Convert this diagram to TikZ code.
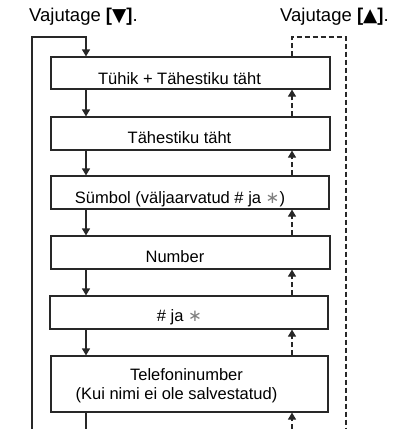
\documentclass[tikz,border=0pt]{standalone}
\usepackage{fontspec}
\setmainfont{Liberation Sans}
\newfontfamily\symfont{DejaVu Sans}
\usetikzlibrary{arrows.meta}
\definecolor{ln}{RGB}{40,40,40}
\newcommand{\myast}{{\symfont\color{gray}∗}}
\begin{document}
\begin{tikzpicture}[x=1pt,y=-1pt,
  box/.style={draw=ln,line width=1.1pt,minimum width=279pt,inner sep=0pt},
  lbl/.style={anchor=base,inner sep=0pt,font=\fontsize{16.5}{18.3}\selectfont},
  ttl/.style={anchor=base west,inner sep=0pt,font=\fontsize{18.5}{20}\selectfont},
  sline/.style={draw=ln,line width=1.1pt},
  arr/.style={sline,-{Triangle[width=8pt,length=7pt]}},
  dline/.style={draw=ln,line width=1.1pt,dash pattern=on 5pt off 3pt},
  darr/.style={dline,-{Triangle[width=8pt,length=7pt]}}]
\useasboundingbox (0,0) rectangle (414,429);
\fill[white] (0,0) rectangle (414,429);
% titles
\node[ttl] (t1) at (29,21) {Vajutage \textbf{[}{\symfont ▼}\textbf{]}.};
\node[ttl] (t2) at (280,21) {Vajutage \textbf{[}{\symfont ▲}\textbf{]}.};
% boxes
\node[box,minimum height=32pt] (b1) at (190.5,73) {};
\node[box,minimum height=33pt] (b2) at (190.5,133.5) {};
\node[box,minimum height=33pt,minimum width=278pt] (b3) at (190,192.5) {};
\node[box,minimum height=33pt] (b4) at (190.5,252.5) {};
\node[box,minimum height=33pt,minimum width=278pt] (b5) at (189,312.5) {};
\node[box,minimum height=56pt,minimum width=277pt] (b6) at (189.5,384) {};
% labels
\node[lbl] (l1) at (179.5,84.3) {Tühik + Tähestiku täht};
\node[lbl] (l2) at (179.5,143) {Tähestiku täht};
\node[lbl] (l3) at (180,203.3) {Sümbol (väljaarvatud \# ja \myast)};
\node[lbl] (l4) at (175,262.3) {Number};
\node[lbl] (l5) at (179.5,321.7) {\# ja \myast};
\node[lbl] (l6a) at (186.5,380.7) {Telefoninumber};
\node[lbl] (l6b) at (176.5,399) {(Kui nimi ei ole salvestatud)};
% helper coordinates
\coordinate (L) at (86,0);
\coordinate (R) at (292,0);
\coordinate (c1) at (32,429);
\coordinate (c2) at (32,37);
\coordinate (c3) at (86,37);
\coordinate (c4) at (86,429);
\coordinate (d1) at (292,37);
\coordinate (d2) at (346,37);
\coordinate (d3) at (346,429);
\coordinate (d4) at (292,429);
% solid down path
\draw[arr] (c1) -- (c2) -- (c3) -- (b1.north -| L);
\draw[arr] (b1.south -| L) -- (b2.north -| L);
\draw[arr] (b2.south -| L) -- (b3.north -| L);
\draw[arr] (b3.south -| L) -- (b4.north -| L);
\draw[arr] (b4.south -| L) -- (b5.north -| L);
\draw[arr] (b5.south -| L) -- (b6.north -| L);
\draw[sline] (b6.south -| L) -- (c4);
% dashed up path
\draw[dline] (b1.north -| R) -- (d1) -- (d2) -- (d3);
\draw[darr] (b2.north -| R) -- (b1.south -| R);
\draw[darr] (b3.north -| R) -- (b2.south -| R);
\draw[darr] (b4.north -| R) -- (b3.south -| R);
\draw[darr] (b5.north -| R) -- (b4.south -| R);
\draw[darr] (b6.north -| R) -- (b5.south -| R);
\draw[darr] (d4) -- (b6.south -| R);
\end{tikzpicture}
\end{document}
